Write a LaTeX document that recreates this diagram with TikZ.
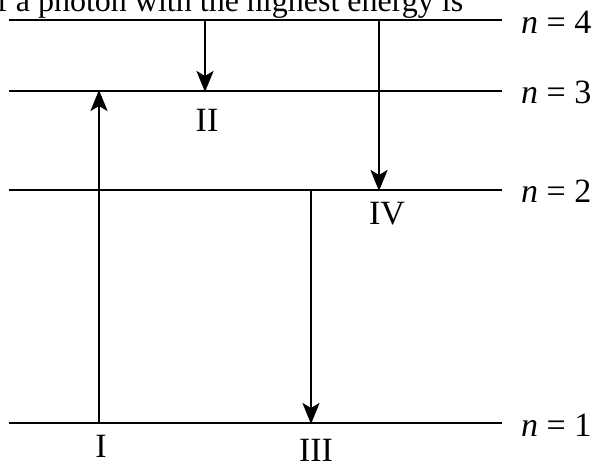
\documentclass[tikz,border=0pt]{standalone}
\usepackage{fontspec}
\setmainfont{Liberation Serif}
\usetikzlibrary{arrows.meta}
\begin{document}
\begin{tikzpicture}[x=1pt,y=-1pt,
  level/.style={line width=2.6pt},
  trans/.style={line width=2.6pt,-{Stealth[length=21pt,width=17pt,inset=5pt]}, shorten >=-1pt},
  lvllabel/.style={anchor=west,inner sep=0pt,font=\fontsize{34}{40}\selectfont},
  numlabel/.style={inner sep=0pt,font=\fontsize{34}{40}\selectfont},
  toptext/.style={anchor=base west,inner sep=0pt,font=\fontsize{32}{38}\selectfont}]
\useasboundingbox (0,0) rectangle (594,465);
\clip (0,0) rectangle (594,465);
\node[toptext] (top) at (-3,12) {f a photon with the highest energy is};
% levels
\coordinate (L4a) at (9,20);  \coordinate (L4b) at (502,20);
\coordinate (L3a) at (9,91);  \coordinate (L3b) at (502,91);
\coordinate (L2a) at (9,190); \coordinate (L2b) at (502,190);
\coordinate (L1a) at (9,423); \coordinate (L1b) at (502,423);
\draw[level] (L4a) -- (L4b);
\draw[level] (L3a) -- (L3b);
\draw[level] (L2a) -- (L2b);
\draw[level] (L1a) -- (L1b);
\node[lvllabel] (n4) at (521,22) {\itshape n\upshape\ = 4};
\node[lvllabel] (n3) at (521,92) {\itshape n\upshape\ = 3};
\node[lvllabel] (n2) at (521,191) {\itshape n\upshape\ = 2};
\node[lvllabel] (n1) at (521,425) {\itshape n\upshape\ = 1};
% transitions
\coordinate (Ia) at (99,423);  \coordinate (Ib) at (99,91);
\coordinate (IIa) at (205,20); \coordinate (IIb) at (205,91);
\coordinate (IIIa) at (311,190); \coordinate (IIIb) at (311,423);
\coordinate (IVa) at (379,20); \coordinate (IVb) at (379,190);
\draw[trans] (Ia) -- (Ib);
\draw[trans] (IIa) -- (IIb);
\draw[trans] (IIIa) -- (IIIb);
\draw[trans] (IVa) -- (IVb);
\node[numlabel] (lI) at (101,446) {I};
\node[numlabel] (lII) at (207,120) {II};
\node[numlabel] (lIII) at (316,450) {III};
\node[numlabel] (lIV) at (387,214) {IV};
\end{tikzpicture}
\end{document}
